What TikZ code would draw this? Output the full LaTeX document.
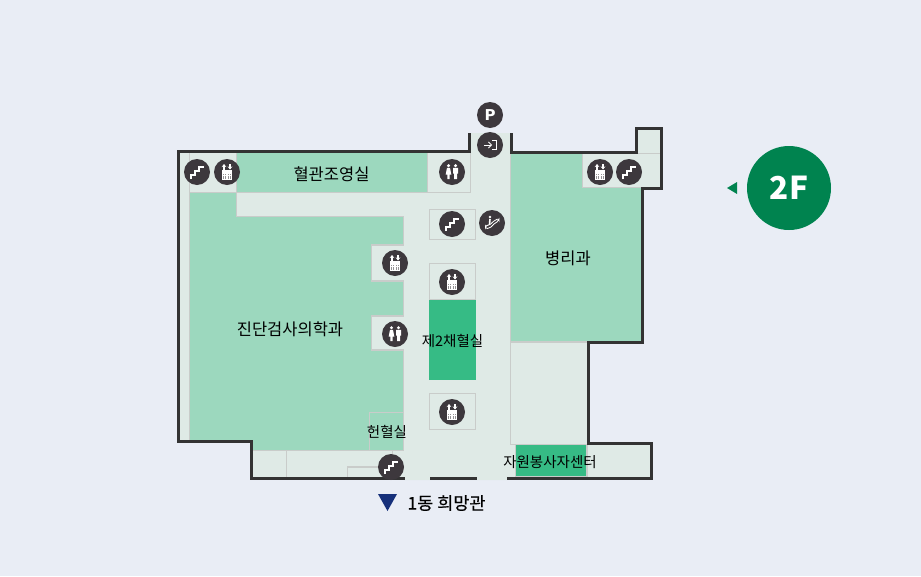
\documentclass[tikz,border=0pt]{standalone}
\usepackage{fontspec}
\setmainfont{Noto Sans CJK KR}
\newfontfamily\exitfont[FakeBold=0.5]{Noto Sans CJK KR}
\newfontfamily\dejavufont{DejaVu Sans}
\usetikzlibrary{arrows.meta}
\definecolor{pagebg}{HTML}{E9EDF5}
\definecolor{floorbg}{HTML}{DFEAE6}
\definecolor{roomgreen}{HTML}{9CD8BE}
\definecolor{roomdark}{HTML}{36BB85}
\definecolor{wallgray}{HTML}{333333}
\definecolor{linegray}{HTML}{C9CCCA}
\definecolor{iconbg}{HTML}{3D383D}
\definecolor{floorgreen}{HTML}{00834F}
\definecolor{navy}{HTML}{16307A}
\tikzset{
wall/.style={draw=wallgray, line width=3.2pt, miter limit=10},
partition/.style={draw=linegray, line width=1.1pt},
room/.style={fill=roomgreen},
iconspot/.style={circle, fill=iconbg, minimum size=26pt, inner sep=0pt},
roomlabel/.style={font=\fontsize{14.5pt}{16pt}\selectfont, text=black, inner sep=0pt},
bigroomlabel/.style={font=\fontsize{16.5pt}{18pt}\selectfont, text=black, inner sep=0pt},
iconline/.style={draw=white, line width=1.7pt},
thinicon/.style={draw=white, line width=0.8pt},
stairsicon/.pic={
    \draw[iconline] (-6,7) -- (-6,3) -- (-2,3) -- (-2,-1) -- (2,-1) -- (2,-5) -- (6.5,-5);
},
elevatoricon/.pic={
    \fill[white] (-4.7,-2) rectangle (4.7,8);
    \fill[iconbg!55!white] (-3.7,1.5) rectangle (3.7,7);
    \foreach \gx in {-2.2,-0.7,0.7,2.2} \draw[white, line width=0.7pt] (\gx,1.5) -- (\gx,7);
    \draw[white, line width=0.7pt] (-3.7,3) -- (3.7,3);
    \draw[white, line width=1.1pt, -{Stealth[length=3pt,width=4.5pt]}] (-3,-2.5) -- (-3,-8);
    \draw[white, line width=1.1pt, -{Stealth[length=3pt,width=4.5pt]}] (3,-8) -- (3,-2.5);
},
restroomicon/.pic={
    \fill[white] (-3.5,-6.3) circle (1.7pt) (3.5,-6.3) circle (1.7pt);
    \fill[white] (-5,-4.2) -- (-2,-4.2) -- (-0.7,2.5) -- (-2.3,2.5) -- (-2.3,7) -- (-4.7,7) -- (-4.7,2.5) -- (-6.3,2.5) -- cycle;
    \fill[white] (1,-4.2) rectangle (6,1.5) (2,1) rectangle (5,7);
},
entryicon/.pic={
    \draw[thinicon, -{Straight Barb[length=3pt,width=6pt]}] (-6,0) -- (2,0);
    \draw[thinicon] (2,-4.5) -- (6,-4.5) -- (6,4.5) -- (2,4.5);
},
escalatoricon/.pic={
    \draw[thinicon, rounded corners=2pt] (-6.5,2.5) -- (-3,2.5) -- (3,-3) -- (7,-4.5) -- (7,-2) -- (3.5,-0.5) -- (-2.5,5.5) -- (-6.5,5.5) -- cycle;
    \fill[white] (-2,-6) circle (1.4pt);
    \draw[white, line width=1.6pt] (-2,-4) -- (-2.5,1.5);
},
}
\begin{document}
\begin{tikzpicture}[x=1pt,y=-1pt]
    \fill[pagebg] (0,0) rectangle (921,576);

    % floor
    \fill[floorbg] (178.5,151.5) -- (469.5,151.5) -- (469.5,133) -- (511.5,133) -- (511.5,152.5) -- (636.5,152.5) -- (636.5,128.5) -- (661.5,128.5) -- (661.5,188.5) -- (642.5,188.5) -- (642.5,342.5) -- (588.5,342.5) -- (588.5,443.5) -- (651.5,443.5) -- (651.5,478.5) -- (507,478.5) -- (507,480) -- (404,480) -- (404,478.5) -- (251.5,478.5) -- (251.5,441.5) -- (178.5,441.5) -- cycle;

    % rooms
    \fill[room] (236.5,153) rectangle (427.5,192);
    \fill[room] (189.5,192) -- (236.5,192) -- (236.5,216.5) -- (403.5,216.5) -- (403.5,245) -- (371.5,245) -- (371.5,281) -- (403.5,281) -- (403.5,316) -- (371.5,316) -- (371.5,350) -- (403.5,350) -- (403.5,450) -- (252,450) -- (252,441) -- (189.5,441) -- cycle;
    \fill[room] (511,153) -- (641,153) -- (641,342) -- (511,342) -- cycle;
    \fill[floorbg] (582.5,153.5) rectangle (641.5,187.5);
    \fill[roomdark] (429,299.5) rectangle (476,380);
    \fill[roomdark] (516,445) rectangle (587,476);

    % partitions
    \draw[partition] (189.5,153) -- (189.5,441);
    \draw[partition] (189.5,192.5) -- (236.5,192.5) -- (236.5,153);
    \draw[partition] (236.5,192.5) -- (427.5,192.5) (236.5,192.5) -- (236.5,216.5) -- (403.5,216.5) -- (403.5,245) -- (371.5,245) -- (371.5,281) -- (403.5,281) -- (403.5,316) -- (371.5,316) -- (371.5,350) -- (403.5,350) -- (403.5,450.5) -- (252,450.5);
    \draw[partition] (427.5,153) -- (427.5,192.5) (470.5,153) -- (470.5,192.5) -- (427.5,192.5);
    \draw[partition] (429.5,209.5) rectangle (475.5,239.5);
    \draw[partition] (429.5,263.5) rectangle (475.5,299.5);
    \draw[partition] (429.5,393.5) rectangle (475.5,429.5);
    \draw[partition] (510.5,153) -- (510.5,444.5) -- (588,444.5);
    \draw[partition] (510.5,342) -- (588,342);
    \draw[partition] (582.5,153) -- (582.5,187.5) -- (641.5,187.5) (637,153.5) -- (660,153.5);
    \draw[partition] (515.5,444.5) -- (515.5,476.5) -- (587,476.5) -- (587,444.5);
    \draw[partition] (369.5,450) -- (369.5,412.5) -- (403.5,412.5);
    \draw[partition] (286.5,450.5) -- (286.5,477);
    \draw[partition] (392.5,450.5) -- (392.5,467) -- (347.5,467) -- (347.5,477);

    % walls
    \draw[wall] (469.5,133) -- (469.5,151.5) -- (178.5,151.5) -- (178.5,441.5) -- (251.5,441.5) -- (251.5,478.5) -- (405,478.5);
    \draw[wall] (430,478.5) -- (477,478.5);
    \draw[wall] (511.5,133) -- (511.5,152.5) -- (636.5,152.5) -- (636.5,128.5) -- (661.5,128.5) -- (661.5,188.5) -- (642.5,188.5) -- (642.5,342.5) -- (588.5,342.5) -- (588.5,443.5) -- (651.5,443.5) -- (651.5,478.5) -- (507,478.5);

    % icons
    \foreach \x/\y [count=\i] in {197/172,629/172,452/224,391/467} {
        \node[iconspot] (stairs\i) at (\x,\y) {};
        \pic at (stairs\i) {stairsicon};
    }
    \foreach \x/\y [count=\i] in {227/172,600/172,395/263,452/282,452/412} {
        \node[iconspot] (elevator\i) at (\x,\y) {};
        \pic at (elevator\i) {elevatoricon};
    }
    \foreach \x/\y [count=\i] in {452/172,395/334} {
        \node[iconspot] (restroom\i) at (\x,\y) {};
        \pic at (restroom\i) {restroomicon};
    }
    \node[iconspot, text=white, font=\dejavufont\bfseries\fontsize{15pt}{15pt}\selectfont] (parking) at (490,115) {P};
    \node[iconspot] (entrance) at (490,145) {};
    \pic at (entrance) {entryicon};
    \node[iconspot] (escalator) at (492,223) {};
    \pic at (escalator) {escalatoricon};

    % labels
    \node[bigroomlabel] (angio) at (331.5,174) {혈관조영실};
    \node[bigroomlabel] (labmed) at (290,329) {진단검사의학과};
    \node[bigroomlabel] (patho) at (568,258) {병리과};
    \node[roomlabel] (bloodroom) at (452.5,341) {제2채혈실};
    \node[roomlabel] (donation) at (387,432) {헌혈실};
    \node[roomlabel] (volunteer) at (550,462) {자원봉사자센터};

    % way out
    \coordinate (bluetip) at (387.5,511);
    \fill[navy] (378,494) -- (397,494) -- (bluetip) -- cycle;
    \node[bigroomlabel, font=\exitfont\fontsize{17.5pt}{18pt}\selectfont] (nextbuilding) at (446.5,503) {1동 희망관};

    % floor badge
    \node[circle, fill=floorgreen, minimum size=84pt, inner sep=0pt, text=white, font=\bfseries\fontsize{31.5pt}{32pt}\selectfont] (floorbadge) at (789,188) {2F};
    \fill[floorgreen] (727,188) -- (737,182) -- (737,194) -- cycle;
\end{tikzpicture}
\end{document}
